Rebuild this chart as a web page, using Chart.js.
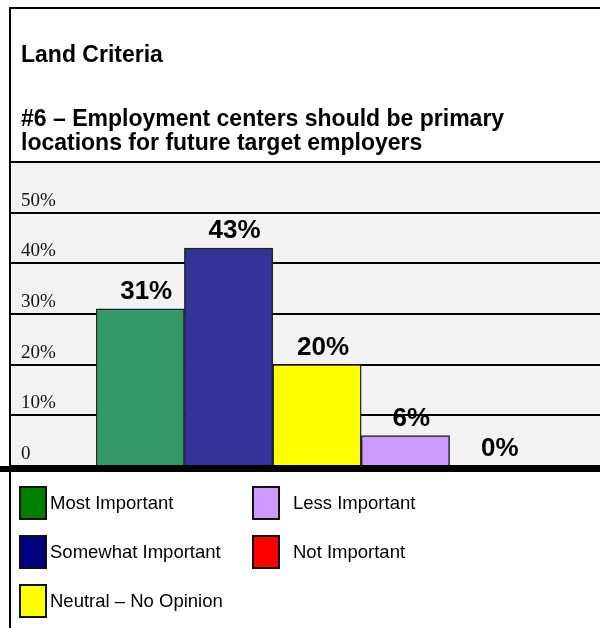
<!DOCTYPE html>
<html>
<head>
<meta charset="utf-8">
<script src="https://cdn.jsdelivr.net/npm/chart.js@4"></script>
<style>
  html, body { margin: 0; padding: 0; background: #fff; overflow: hidden; }
  #wrap { position: relative; width: 600px; height: 628px; overflow: hidden; }
  #frame {
    position: absolute; left: 9px; top: 7px; width: 620px; height: 640px;
    border-left: 2px solid #000; border-top: 2px solid #000;
  }
  #chart { position: absolute; left: 0; top: 0; }
  .key {
    position: absolute; display: flex; align-items: center;
    font: 18.5px "Liberation Sans", Arial, sans-serif; color: #000; white-space: nowrap;
  }
  .key .box { width: 28px; height: 34px; box-sizing: border-box; border: 2px solid #111; }
</style>
</head>
<body>
<div id="wrap">
  <div id="frame"></div>
  <canvas id="chart" width="600" height="628"></canvas>
  <div id="keys"></div>
</div>
<script>
const categories = [
  "Most Important",
  "Somewhat Important",
  "Neutral – No Opinion",
  "Less Important",
  "Not Important",
];
const shares = [31, 43, 20, 6, 0];
const barColors = ["#339966", "#333399", "#ffff00", "#cc99ff", "#ff0000"];
const legendColors = ["#008000", "#000080", "#ffff00", "#cc99ff", "#ff0000"];
const tickLabels = ["0", "10%", "20%", "30%", "40%", "50%", ""];

const sans = "'Liberation Sans', Arial, sans-serif";
const serif = "'Liberation Serif', 'Times New Roman', serif";

// grey plot panel behind the bars, plus the heavy base rule under them
const plotBackdrop = {
  id: "plotBackdrop",
  beforeDraw(chart) {
    const { ctx, scales: { y } } = chart;
    const top = y.getPixelForValue(60);
    const bottom = y.getPixelForValue(0);
    ctx.save();
    ctx.fillStyle = "#f2f2f2";
    ctx.fillRect(11, top, chart.width - 11, bottom - top);
    ctx.restore();
  },
  afterDatasetsDraw(chart) {
    const { ctx, scales: { y } } = chart;
    const base = y.getPixelForValue(0);
    ctx.save();
    ctx.fillStyle = "#000";
    ctx.fillRect(0, base, chart.width, 6);
    ctx.restore();
  },
};

// percentage printed over each bar
const valueLabels = {
  id: "valueLabels",
  afterDatasetsDraw(chart) {
    const { ctx } = chart;
    const meta = chart.getDatasetMeta(0);
    ctx.save();
    ctx.font = "bold 26px " + sans;
    ctx.fillStyle = "#000";
    ctx.textAlign = "center";
    ctx.textBaseline = "alphabetic";
    meta.data.forEach((bar, i) => {
      ctx.fillText(shares[i] + "%", bar.x + 6, bar.y - 10);
    });
    ctx.restore();
  },
};

new Chart(document.getElementById("chart"), {
  type: "bar",
  data: {
    labels: categories,
    datasets: [
      {
        data: shares,
        backgroundColor: barColors,
        borderColor: "#222",
        borderWidth: 1.5,
        barPercentage: 1,
        categoryPercentage: 1,
      },
    ],
  },
  options: {
    responsive: false,
    animation: false,
    layout: { padding: { left: 21, top: 0, right: 0, bottom: 162 } },
    plugins: {
      legend: { display: false },
      tooltip: { enabled: false },
      title: {
        display: true,
        text: "Land Criteria",
        align: "start",
        color: "#000",
        font: { family: sans, size: 23, weight: "bold", lineHeight: "24px" },
        padding: { top: 44, bottom: 0 },
      },
      subtitle: {
        display: true,
        text: [
          "#6 – Employment centers should be primary",
          "locations for future target employers",
        ],
        align: "start",
        color: "#000",
        font: { family: sans, size: 23, weight: "bold", lineHeight: "24px" },
        padding: { top: 40, bottom: 6 },
      },
    },
    scales: {
      x: { display: false },
      y: {
        position: "left",
        min: 0,
        max: 60,
        ticks: {
          stepSize: 10,
          callback: (v, i) => tickLabels[i],
          crossAlign: "far",
          labelOffset: -12,
          color: "#111",
          font: { family: serif, size: 19 },
        },
        grid: { color: "#000", lineWidth: 2, tickLength: 86 },
        border: { display: false },
        afterFit(scale) {
          scale.width = 75;
          scale.paddingTop = 0;
          scale.paddingBottom = 0;
        },
      },
      y2: {
        position: "right",
        min: 0,
        max: 60,
        ticks: { stepSize: 10, display: false },
        grid: { color: "#000", lineWidth: 2, tickLength: 62, drawOnChartArea: false },
        border: { display: false },
        afterFit(scale) {
          scale.width = 62;
          scale.paddingTop = 0;
          scale.paddingBottom = 0;
        },
      },
    },
  },
  plugins: [plotBackdrop, valueLabels],
});

// legend: two columns, filled top to bottom
const keys = document.getElementById("keys");
categories.forEach((name, i) => {
  const col = Math.floor(i / 3);
  const row = i % 3;
  const item = document.createElement("div");
  item.className = "key";
  item.style.left = 19 + col * 233 + "px";
  item.style.top = 486 + row * 49 + "px";
  const box = document.createElement("span");
  box.className = "box";
  box.style.background = legendColors[i];
  const label = document.createElement("span");
  label.textContent = name;
  label.style.marginLeft = (col ? 13 : 3) + "px";
  item.appendChild(box);
  item.appendChild(label);
  keys.appendChild(item);
});
</script>
</body>
</html>
